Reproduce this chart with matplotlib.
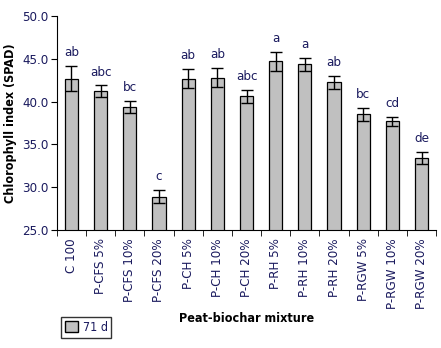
import matplotlib
matplotlib.use("Agg")
import matplotlib.pyplot as plt
import numpy as np
from matplotlib.patches import Patch

categories = ["C 100", "P-CFS 5%", "P-CFS 10%", "P-CFS 20%", "P-CH 5%", "P-CH 10%",
              "P-CH 20%", "P-RH 5%", "P-RH 10%", "P-RH 20%", "P-RGW 5%", "P-RGW 10%", "P-RGW 20%"]
values = [42.7, 41.2, 39.4, 28.9, 42.7, 42.8, 40.6, 44.7, 44.35, 42.25, 38.5, 37.7, 33.4]
errors = [1.5, 0.7, 0.7, 0.8, 1.1, 1.1, 0.8, 1.1, 0.8, 0.8, 0.8, 0.55, 0.7]
letters = ["ab", "abc", "bc", "c", "ab", "ab", "abc", "a", "a", "ab", "bc", "cd", "de"]
yticks = [25.0, 30.0, 35.0, 40.0, 45.0, 50.0]

plt.rcParams["font.family"] = ["DejaVu Sans"]
plt.rcParams["font.stretch"] = "condensed"
navy = "#1a1a5e"
fs = 9

fig = plt.figure(figsize=(4.41, 3.48), dpi=100)
ax = fig.add_axes([0.129, 0.339, 0.860, 0.615])

x = np.arange(len(categories))
ax.bar(x, values, width=0.45, color="#c0c0c0", edgecolor="black", linewidth=0.9, zorder=2)
ax.errorbar(x, values, yerr=errors, fmt="none", ecolor="black", elinewidth=1.0,
            capsize=4, capthick=1.0, zorder=3)
for xi, v, e, l in zip(x, values, errors, letters):
    ax.text(xi, v + e + 0.8, l, ha="center", va="bottom", fontsize=fs + 0.5, color=navy)

ax.set_ylim(25, 50)
ax.set_xlim(-0.5, len(categories) - 0.5)
ax.set_yticks(yticks)
ax.set_yticklabels([f"{t:.1f}" for t in yticks], fontsize=fs + 0.5, color=navy)
ax.set_xticks(x)
ax.set_xticklabels(categories, rotation=90, fontsize=fs + 0.5, color=navy)
ax.tick_params(axis="x", length=0, pad=6)
ax.set_xticks(np.arange(-0.5, len(categories)), minor=True)
ax.tick_params(axis="x", which="minor", length=4, direction="out")
ax.tick_params(axis="y", length=4, direction="out", pad=2)
for s in ["top", "right"]:
    ax.spines[s].set_visible(False)
ax.set_ylabel("Chlorophyll index (SPAD)", fontsize=fs, fontweight="bold", labelpad=4)
ax.set_xlabel("Peat-biochar mixture", fontsize=fs, fontweight="bold", labelpad=2)

leg = fig.legend(handles=[Patch(facecolor="#c0c0c0", edgecolor="black", label="71 d")],
                 loc="lower left", bbox_to_anchor=(0.125, 0.012), fancybox=False,
                 edgecolor="black", fontsize=fs, handlelength=1.0, handleheight=0.9,
                 handletextpad=0.4, borderpad=0.3)
for t in leg.get_texts():
    t.set_color(navy)

fig.savefig("out.png", dpi=100)
